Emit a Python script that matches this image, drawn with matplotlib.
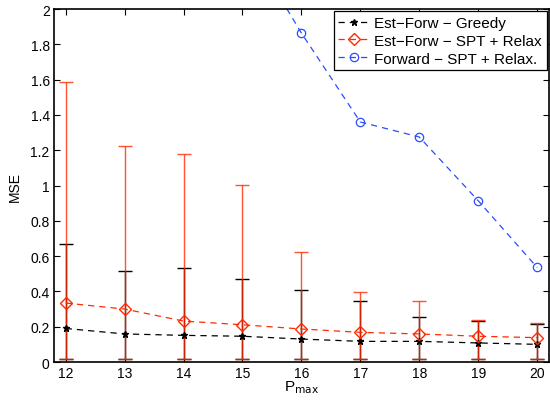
import numpy as np
import matplotlib.pyplot as plt

plt.rcParams['font.family'] = ['Liberation Sans', 'DejaVu Sans']

# P_max values
pmax = [12, 13, 14, 15, 16, 17, 18, 19, 20]

# Est-Forw - Greedy
greedy = [0.19, 0.159, 0.151, 0.146, 0.13, 0.117, 0.117, 0.108, 0.10]
greedy_hi = [0.668, 0.514, 0.531, 0.47, 0.41, 0.344, 0.257, 0.235, 0.215]
greedy_lo = [0.017, 0.017, 0.017, 0.017, 0.017, 0.017, 0.017, 0.017, 0.017]

# Est-Forw - SPT + Relax
spt = [0.334, 0.30, 0.232, 0.211, 0.187, 0.168, 0.159, 0.146, 0.138]
spt_hi = [1.585, 1.222, 1.177, 1.003, 0.625, 0.398, 0.344, 0.238, 0.219]
spt_lo = [0.017, 0.017, 0.017, 0.017, 0.017, 0.017, 0.017, 0.017, 0.017]

# Forward - SPT + Relax.
fwd_x = [15, 16, 17, 18, 19, 20]
fwd = [2.42, 1.864, 1.36, 1.275, 0.914, 0.536]

red = '#ff2a00'
blue = '#2a4dff'

fig = plt.figure(figsize=(5.5, 4.02), dpi=100)
ax = fig.add_axes([0.098, 0.097, 0.9, 0.878])

g = np.array(greedy)
s = np.array(spt)

ax.errorbar(pmax, g, yerr=[g - np.array(greedy_lo), np.array(greedy_hi) - g],
            fmt='none', ecolor='k', elinewidth=1, capsize=5, capthick=1)
ax.errorbar(pmax, s, yerr=[s - np.array(spt_lo), np.array(spt_hi) - s],
            fmt='none', ecolor=red, elinewidth=1, capsize=5, capthick=1, alpha=0.8)

ax.plot(pmax, greedy, '--', color='k', marker='*', ms=5, lw=0.9,
        dashes=(5, 4), label='Est\u2212Forw \u2212 Greedy')
ax.plot(pmax, spt, '--', color=red, marker='D', ms=6, mfc='none', mew=1,
        lw=0.9, dashes=(5, 4), label='Est\u2212Forw \u2212 SPT + Relax')
ax.plot(fwd_x, fwd, '--', color=blue, marker='o', ms=6, mfc='none', mew=0.9,
        lw=0.9, dashes=(5, 4), label='Forward \u2212 SPT + Relax.')

ax.set_xlim(11.8, 20.2)
ax.set_ylim(0, 2)
ax.set_xticks(pmax)
ax.set_yticks(np.arange(0, 2.01, 0.2))
ax.set_yticklabels(['0', '0.2', '0.4', '0.6', '0.8', '1', '1.2', '1.4', '1.6', '1.8', '2'])
ax.tick_params(direction='in', top=True, right=True, length=4, labelsize=10, width=0.8, pad=3)
for sp in ax.spines.values():
    sp.set_linewidth(1.2)

ax.set_ylabel('MSE', fontsize=10, labelpad=6)
ax.set_xlabel('P$_{\\mathrm{max}}$', fontsize=11, labelpad=-1)

leg = ax.legend(loc='upper right', fontsize=11, handlelength=2.0, fancybox=False,
                framealpha=1, edgecolor='k', borderaxespad=0.15, labelspacing=0.25,
                borderpad=0.3, handletextpad=0.35)
leg.get_frame().set_linewidth(0.9)

fig.savefig('out.png', dpi=100)
